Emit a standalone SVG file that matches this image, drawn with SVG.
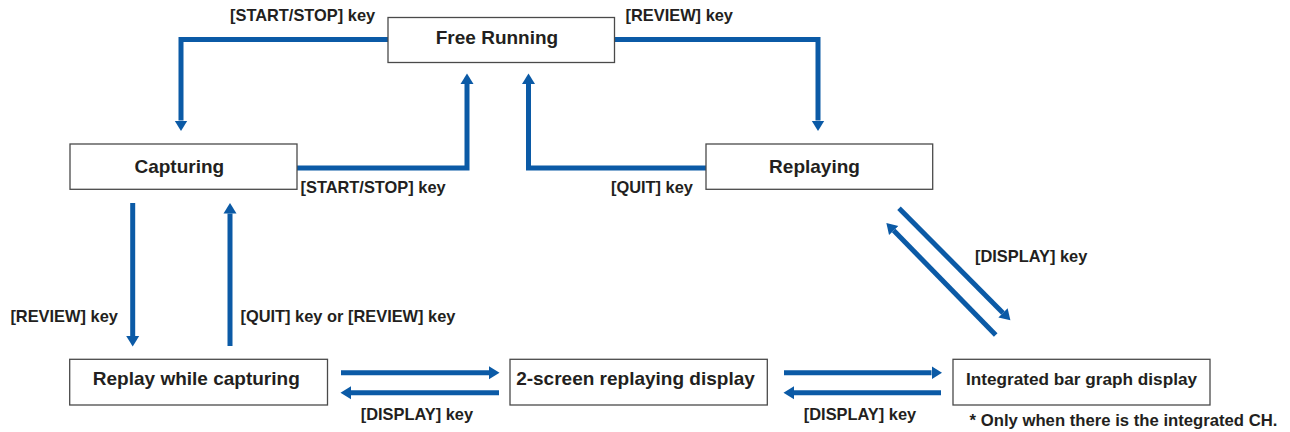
<svg xmlns="http://www.w3.org/2000/svg" width="1290" height="432" viewBox="0 0 1290 432">
<style>
.box{fill:#fff;stroke:#4a4a4a;stroke-width:1.3}
.nl{font-family:"Liberation Sans",Arial,sans-serif;font-weight:bold;font-size:19px;fill:#231f20;text-anchor:middle}
.el{font-family:"Liberation Sans",Arial,sans-serif;font-weight:bold;font-size:16.4px;fill:#231f20}
.c{fill:none;stroke:#0b5aa6;stroke-width:5;marker-end:url(#ah)}
</style>
<defs>
<marker id="ah" markerUnits="userSpaceOnUse" markerWidth="12" markerHeight="14" refX="0" refY="6.5" orient="auto" viewBox="0 0 12 13">
<path d="M0,0 L10.5,6.5 L0,13 z" fill="#0b5aa6"/>
</marker>
</defs>
<rect width="1290" height="432" fill="#fff"/>
<g id="connectors">
<path class="c" d="M388,39.5 H181 V120.5"/>
<path class="c" d="M614.5,39.5 H818 V120.5"/>
<path class="c" d="M297,168 H467 V84"/>
<path class="c" d="M706,168 H528.5 V84"/>
<path class="c" d="M132.7,203 V336"/>
<path class="c" d="M230,346 V213.5"/>
<path class="c" d="M341,372.7 H489"/>
<path class="c" d="M499,392.7 H351"/>
<path class="c" d="M784,372.7 H931.5"/>
<path class="c" d="M941,392.7 H794"/>
<path class="c" d="M899,208.3 L1003,312.9"/>
<path class="c" d="M995.7,335 L893.7,230.5"/>
<text class="el" x="230" y="20.5">[START/STOP] key</text>
<text class="el" x="625.5" y="20.5">[REVIEW] key</text>
<text class="el" x="300.5" y="193">[START/STOP] key</text>
<text class="el" x="611" y="193">[QUIT] key</text>
<text class="el" x="10.4" y="321.7">[REVIEW] key</text>
<text class="el" x="240.5" y="321.7">[QUIT] key or [REVIEW] key</text>
<text class="el" x="975" y="261.7">[DISPLAY] key</text>
<text class="el" x="360.7" y="420">[DISPLAY] key</text>
<text class="el" x="803.8" y="420">[DISPLAY] key</text>
</g>
<g id="free-running">
<rect class="box" x="388" y="17.5" width="226.5" height="45"/>
<text class="nl" x="497" y="44.3">Free Running</text>
</g>
<g id="capturing">
<rect class="box" x="70" y="144" width="227" height="45.3"/>
<text class="nl" x="179.3" y="173.3">Capturing</text>
</g>
<g id="replaying">
<rect class="box" x="706" y="144" width="226.7" height="45.3"/>
<text class="nl" x="814.5" y="173.3">Replaying</text>
</g>
<g id="replay-while-capturing">
<rect class="box" x="69.7" y="359.3" width="257.8" height="45.7"/>
<text class="nl" x="196.3" y="385">Replay while capturing</text>
</g>
<g id="two-screen">
<rect class="box" x="510" y="359.3" width="257.3" height="45.7"/>
<text class="nl" x="635.5" y="385">2-screen replaying display</text>
</g>
<g id="integrated">
<rect class="box" x="953" y="359.3" width="257" height="45.7"/>
<text class="nl" x="1081.5" y="385" style="font-size:17.2px">Integrated bar graph display</text>
</g>
<text class="el" x="969.6" y="426" style="font-size:16.7px">* Only when there is the integrated CH.</text>
</svg>
